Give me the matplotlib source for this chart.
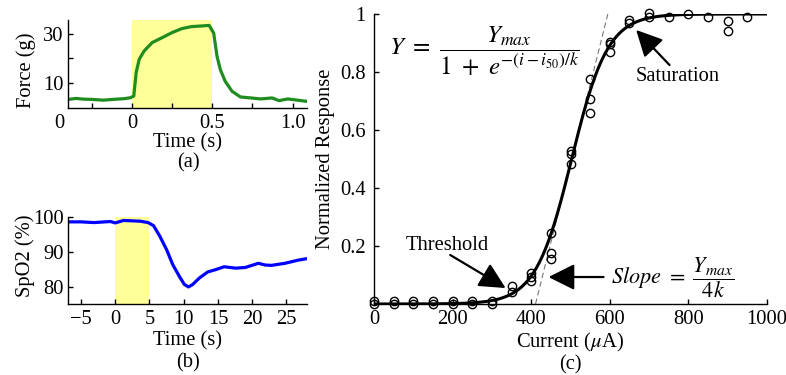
import numpy as np
import matplotlib
matplotlib.use('Agg')
import matplotlib.pyplot as plt
from matplotlib.transforms import blended_transform_factory

plt.rcParams['font.family'] = ['Liberation Serif', 'DejaVu Serif']
plt.rcParams['mathtext.fontset'] = 'stix'
plt.rcParams['font.size'] = 14.8
plt.rcParams['xtick.direction'] = 'in'
plt.rcParams['ytick.direction'] = 'in'
plt.rcParams['axes.linewidth'] = 1.0

# (a) force trace
force_t = [-0.40, -0.35, -0.30, -0.25, -0.18, -0.10, -0.05, -0.01, 0.01, 0.025, 0.044,
           0.075, 0.125, 0.19, 0.25, 0.31, 0.37, 0.44, 0.48, 0.508, 0.529, 0.55,
           0.58, 0.623, 0.675, 0.74, 0.80, 0.873, 0.915, 0.97, 1.03, 1.09]
force_g = [3.3, 3.7, 3.4, 3.3, 3.0, 3.4, 3.6, 4.0, 4.7, 14.3, 19.7,
           23.1, 26.5, 28.6, 30.6, 32.2, 33.0, 33.3, 33.5, 30.4, 20.9, 15.4,
           10.7, 6.6, 4.3, 3.9, 3.5, 3.9, 2.8, 3.5, 3.0, 2.5]

# (b) SpO2 trace
spo2_t = [-6.8, -5.0, -3.1, -0.7, 0.0, 1.2, 3.6, 4.8, 5.6, 6.5, 7.5, 8.4, 9.4, 10.1,
          10.7, 11.3, 12.3, 13.5, 14.7, 15.9, 17.6, 19.0, 20.9, 21.9, 22.8, 24.8,
          26.7, 27.9]
spo2_v = [98.6, 98.6, 98.4, 98.7, 98.3, 99.0, 98.8, 98.4, 97.5, 94.5, 90.6, 86.3, 82.8, 80.6,
          79.9, 80.6, 82.5, 84.2, 84.9, 85.7, 85.3, 85.5, 86.7, 86.2, 86.1, 86.7,
          87.6, 88.0]

# (c) recruitment data
cur_x = [0, 0, 50, 50, 100, 100, 150, 150, 200, 200, 250, 250, 300, 300,
         350, 350, 400, 400, 400, 450, 450, 450, 500, 500, 500, 550, 550, 550,
         600, 600, 600, 650, 650, 700, 700, 750, 800, 850, 900, 900, 950]
resp_y = [0.0, 0.012, 0.0, 0.012, 0.0, 0.012, 0.0, 0.012, 0.0, 0.012, 0.0, 0.012, 0.0, 0.012,
          0.043, 0.062, 0.08, 0.094, 0.106, 0.154, 0.177, 0.246, 0.483, 0.517, 0.529,
          0.657, 0.706, 0.776, 0.870, 0.895, 0.905, 0.968, 0.979, 0.99, 1.002, 0.989,
          1.0, 0.989, 0.942, 0.977, 0.991]
i50 = 503
k = 46
y_max = 1.0

W, H = 786, 375
fig = plt.figure(figsize=(W / 100, H / 100), dpi=100)

def px_axes(l, t, r, b):
    return fig.add_axes([l / W, 1 - b / H, (r - l) / W, (b - t) / H])

def style(ax):
    ax.spines['top'].set_visible(False)
    ax.spines['right'].set_visible(False)
    ax.tick_params(which='both', length=3.5, width=1.0, pad=4)
    ax.tick_params(axis='y', pad=3)

# ---- (a)
ax1 = px_axes(68, 20, 307, 108)
ax1.axvspan(0, 0.5, color='#ffff99', lw=0)
ax1.plot(force_t, force_g, color='#1e8c1e', lw=2.3)
ax1.set_xlim(-0.4, 1.09)
ax1.set_ylim(-0.2, 35.7)
ax1.set_xticks([0, 0.5, 1.0])
ax1.set_xticklabels(['0', '0.5', '1.0'])
ax1.set_xticks([-0.25, 0.25, 0.75], minor=True)
ax1.set_yticks([10, 30])
ax1.set_yticks([20], minor=True)
style(ax1)
ax1.text(-0.456, -0.065, '0', transform=blended_transform_factory(ax1.transData, ax1.transAxes),
         ha='center', va='top', clip_on=False)
ax1.set_ylabel('Force (g)')
ax1.yaxis.set_label_coords(-0.135, 0.43)
ax1.set_xlabel('Time (s)')
ax1.xaxis.set_label_coords(0.5, -0.29)
fig.text(188 / W, 1 - 163 / H, '(a)', ha='center', va='center')

# ---- (b)
ax2 = px_axes(68, 217, 307, 304)
ax2.axvspan(0, 5, color='#ffff99', lw=0)
ax2.plot(spo2_t, spo2_v, color='#0000ff', lw=2.3)
ax2.set_xlim(-6.9, 28.0)
ax2.set_ylim(75, 100)
ax2.set_xticks([-5, 0, 5, 10, 15, 20, 25])
ax2.set_yticks([80, 90, 100])
style(ax2)
ax2.set_ylabel('SpO2 (%)')
ax2.yaxis.set_label_coords(-0.14, 0.56)
ax2.set_xlabel('Time (s)')
ax2.xaxis.set_label_coords(0.5, -0.31)
fig.text(188 / W, 1 - 363 / H, '(b)', ha='center', va='center')

# ---- (c)
ax3 = px_axes(374, 14, 767, 304)
xs = np.linspace(0, 1000, 400)
ax3.plot(xs, y_max / (1 + np.exp(-(xs - i50) / k)), color='k', lw=2.2, zorder=3)
xt = np.array([i50 - 2 * k, i50 + 2 * k])
ax3.plot(xt, 0.5 + (xt - i50) * y_max / (4 * k), color='#777777', lw=0.8, ls=(0, (5, 3)), zorder=2)
ax3.plot(cur_x, resp_y, ls='none', marker='o', mfc='none', mec='k', ms=6, mew=1.0,
         clip_on=False, zorder=4)
ax3.set_xlim(0, 1000)
ax3.set_ylim(0, 1)
ax3.set_xticks([0, 200, 400, 600, 800, 1000])
ax3.set_yticks([0.2, 0.4, 0.6, 0.8, 1.0])
ax3.set_yticklabels(['0.2', '0.4', '0.6', '0.8', '1'])
style(ax3)
ax3.tick_params(axis='y', pad=6)
ax3.set_ylabel('Normalized Response')
ax3.yaxis.set_label_coords(-0.10, 0.5)
ax3.set_xlabel(r'Current ($\mu$A)')
ax3.xaxis.set_label_coords(0.5, -0.093)
fig.text(570 / W, 1 - 365 / H, '(c)', ha='center', va='center')

ax3.text(38, 0.87, r'$Y\ =\ \dfrac{Y_{max}}{1\ +\ e^{-(i-i_{50})/k}}$', fontsize=18,
         ha='left', va='center')
ax3.text(603, 0.093, r'$Slope\ =\ \dfrac{Y_{max}}{4k}$', fontsize=16, ha='left', va='center')
ax3.text(774, 0.783, 'Saturation', ha='center', va='center')
ax3.text(186, 0.203, 'Threshold', ha='center', va='center')

arrow = dict(arrowstyle='-|>,head_length=0.8,head_width=0.4', color='k', lw=1.6,
             shrinkA=0, shrinkB=0, mutation_scale=20)
ax3.annotate('', xy=(667, 0.945), xytext=(752, 0.824), arrowprops=arrow)
ax3.annotate('', xy=(335, 0.055), xytext=(194, 0.169), arrowprops=arrow)
ax3.annotate('', xy=(444, 0.093), xytext=(584, 0.093), arrowprops=arrow)

fig.savefig('out.png', dpi=100)
